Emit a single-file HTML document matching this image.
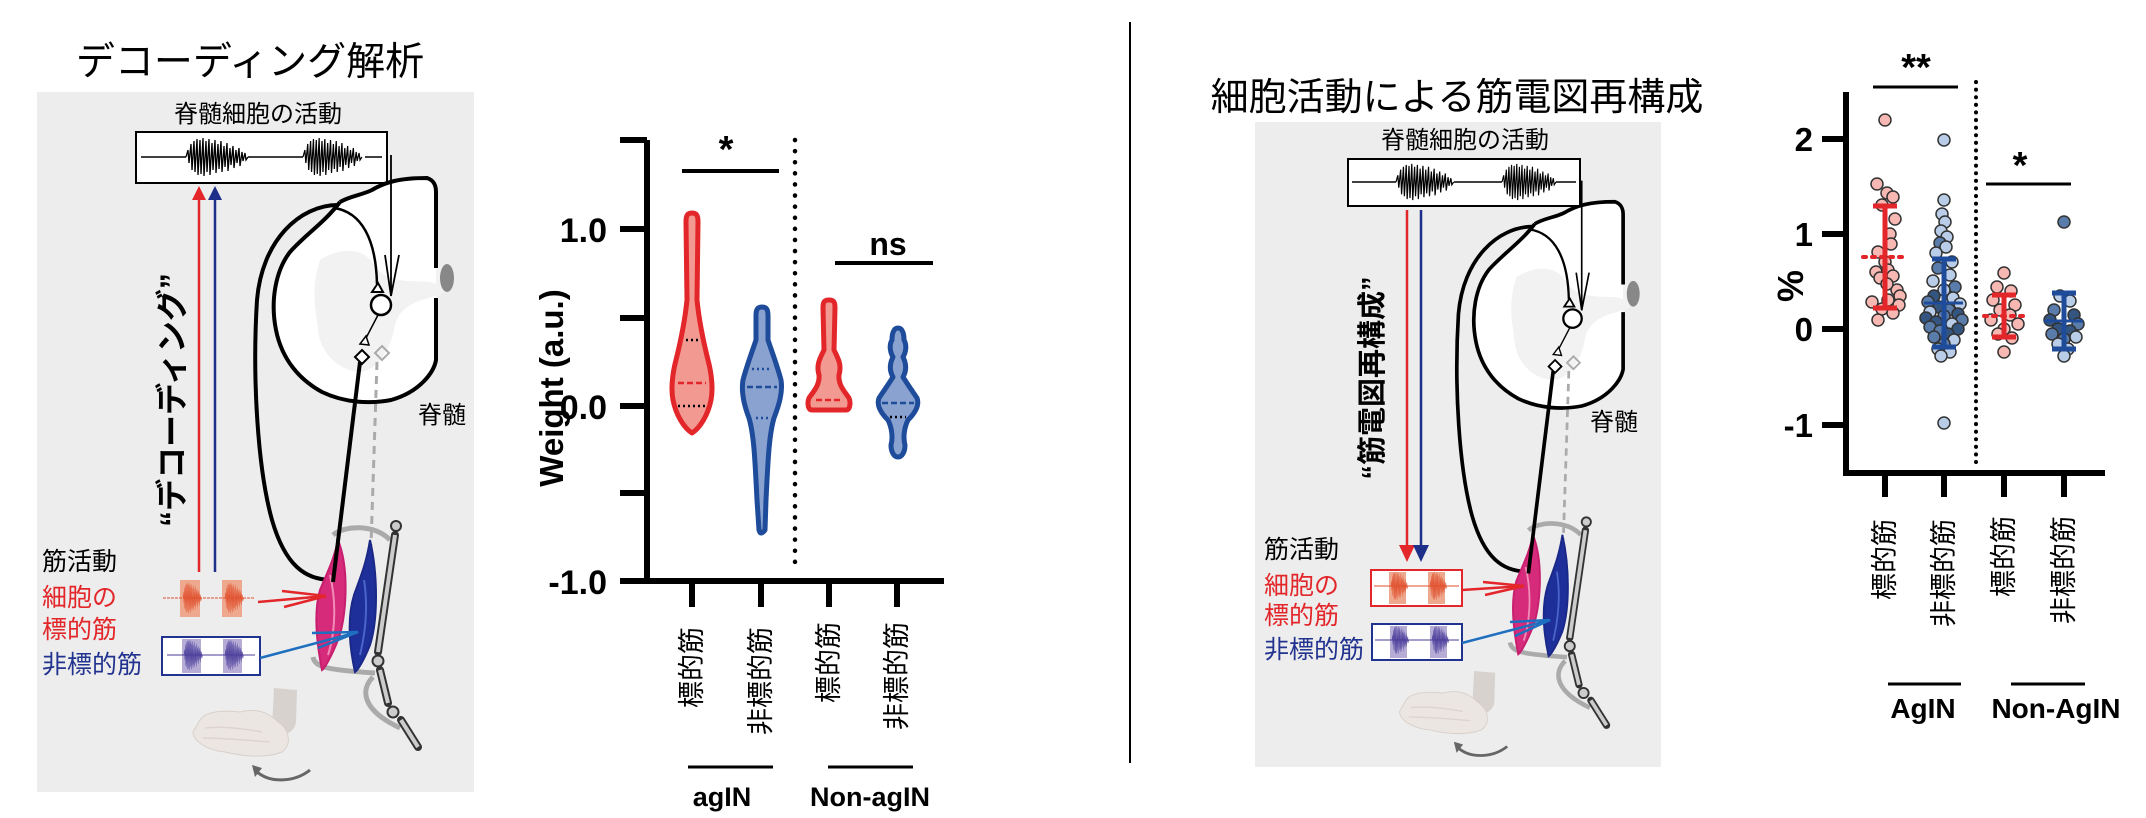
<!DOCTYPE html>
<html><head><meta charset="utf-8"><style>
html,body{margin:0;padding:0;background:#fff;}
svg{display:block;}
text{font-family:"Liberation Sans","Noto Sans CJK JP",sans-serif;}
</style></head><body>
<svg width="2146" height="818" viewBox="0 0 2146 818" xmlns="http://www.w3.org/2000/svg">
<defs>
<path id="burst" d="M0,0 L2,-7 L3,6 L5,-13 L6,13 L8,-16 L9,15 L11,-18 L12,18 L14,-17 L15,17 L17,-19 L18,19 L20,-16 L21,15 L23,-18 L24,18 L26,-14 L27,13 L29,-17 L30,16 L32,-13 L33,12 L35,-16 L36,15 L38,-11 L39,10 L41,-14 L42,14 L44,-9 L45,8 L47,-11 L48,11 L50,-7 L51,6 L53,-9 L54,9 L56,-5 L57,4 L59,-4 L60,3 L62,0" fill="none" stroke-width="1.3"/>
<g id="cord">
  <path d="M338,205 C300,205 262,240 257,300 C252,380 258,470 272,520 C285,565 305,580 332,580" fill="none" stroke="#000" stroke-width="4"/>
  <path d="M340,202 C350,196 362,195 372,190 C385,182 400,178 427,178 C433,180 436,184 436,192 L436,360 C434,372 420,392 391,400 C370,404 345,403 322,392 C300,380 282,360 276,330 C270,300 276,270 290,252 C305,235 325,222 340,202 Z" fill="#fff" stroke="none"/>
  <path d="M320,260 C335,250 360,245 372,262 C385,285 410,280 430,282 L436,284 L436,296 C420,300 400,305 395,325 C392,345 380,370 360,372 C335,370 320,350 318,330 C316,310 310,290 320,260 Z" fill="#f2f2f2"/>
  <path d="M436,268 L446,266 L446,290 L436,298 Z" fill="#f2f2f2"/>
  <path d="M340,202 C350,196 362,195 372,190 C385,182 400,178 427,178 C433,180 436,184 436,192 L436,268 M436,298 L436,360 C434,372 420,392 391,400 C370,404 345,403 322,392 C300,380 282,360 276,330 C270,300 276,270 290,252 C305,235 325,222 340,202" fill="none" stroke="#000" stroke-width="4"/>
  <ellipse cx="447" cy="278" rx="7" ry="14" fill="#888"/>
  <path d="M334,208 C362,212 376,240 377,284" fill="none" stroke="#000" stroke-width="2.5"/>
  <path d="M372,292 L378,283 L383,292 Z" fill="#fff" stroke="#000" stroke-width="2"/>
  <path d="M391,155 L391,296 M385,255 L391,296 L399,255" fill="none" stroke="#000" stroke-width="1.8"/>
  <circle cx="381" cy="305" r="10" fill="#fff" stroke="#000" stroke-width="2.5"/>
  <line x1="378" y1="315" x2="365" y2="340" stroke="#000" stroke-width="1.5"/>
  <path d="M360,344 L366,336 L369,345 Z" fill="#fff" stroke="#000" stroke-width="1.5"/>
  <path d="M362,350 L369,357 L362,364 L355,357 Z" fill="#fff" stroke="#000" stroke-width="2"/>
  <path d="M382,346 L389,353 L382,360 L375,353 Z" fill="none" stroke="#aaa" stroke-width="2"/>
  <line x1="377" y1="362" x2="371" y2="545" stroke="#aaa" stroke-width="3" stroke-dasharray="8,6"/>
  <path d="M333,535 C345,525 375,524 390,540" fill="none" stroke="#aaa" stroke-width="5"/>
  <path d="M313,657 C315,668 330,670 375,673" fill="none" stroke="#aaa" stroke-width="5"/>
  <path d="M373,677 C360,690 362,710 400,728" fill="none" stroke="#aaa" stroke-width="5"/>
  <path d="M338,540 C350,570 346,620 338,640 C332,655 325,668 322,670 C316,640 314,610 320,590 C326,575 334,560 338,540 Z" fill="#d62a7a" stroke="#c81e6e" stroke-width="2"/>
  <path d="M330,575 C336,600 336,630 328,655" fill="none" stroke="#f08cb8" stroke-width="2"/>
  <path d="M370,540 C378,575 378,620 370,645 C364,660 358,670 355,672 C348,640 348,615 354,595 C360,578 366,565 370,540 Z" fill="#1e2f9a" stroke="#1a2888" stroke-width="2"/>
  <path d="M364,580 C368,605 366,630 360,655" fill="none" stroke="#4a64c8" stroke-width="2"/>
  <line x1="360" y1="362" x2="333" y2="582" stroke="#000" stroke-width="4"/>
  <line x1="395" y1="535" x2="378" y2="652" stroke="#333" stroke-width="8" stroke-linecap="round"/>
  <line x1="395" y1="535" x2="378" y2="652" stroke="#ccc" stroke-width="4"/>
  <circle cx="396" cy="526" r="5" fill="#ccc" stroke="#333" stroke-width="2"/>
  <circle cx="378" cy="661" r="5.5" fill="#ccc" stroke="#333" stroke-width="2"/>
  <line x1="380" y1="670" x2="388" y2="703" stroke="#333" stroke-width="8" stroke-linecap="round"/>
  <line x1="380" y1="670" x2="388" y2="703" stroke="#ccc" stroke-width="4"/>
  <circle cx="393" cy="712" r="5.5" fill="#ccc" stroke="#333" stroke-width="2"/>
  <line x1="401" y1="720" x2="418" y2="747" stroke="#333" stroke-width="8" stroke-linecap="round"/>
  <line x1="401" y1="720" x2="418" y2="747" stroke="#ccc" stroke-width="4"/>
  <path d="M274,688 L297,690 L296,722 C295,730 288,735 280,735 L272,728 Z" fill="#d8d2ce"/>
  <path d="M200,720 C205,712 220,710 240,712 C255,708 268,712 278,722 C290,730 292,745 282,752 C268,758 245,757 225,752 C205,750 193,740 193,732 Z" fill="#ece6e2" stroke="#d8d0ca" stroke-width="1"/>
  <path d="M205,728 C220,726 240,728 262,732 M203,738 C222,738 245,740 270,742" fill="none" stroke="#ddd4ce" stroke-width="1.5"/>
  <path d="M310,770 C295,782 270,784 256,771" fill="none" stroke="#666" stroke-width="3"/>
  <path d="M252,765 L262,768 L255,777 Z" fill="#666"/>
</g>
</defs>

<!-- LEFT PANEL -->
<text x="250" y="75" font-size="39" text-anchor="middle">デコーディング解析</text>
<rect x="37" y="92" width="437" height="700" fill="#ededed"/>
<text x="258" y="122" font-size="24" text-anchor="middle">脊髄細胞の活動</text>
<rect x="136" y="132" width="251" height="51" fill="#fff" stroke="#000" stroke-width="2"/>
<path d="M141,157 L186,157 M248,157 L303,157 M365,157 L382,157" stroke="#000" stroke-width="1.5"/>
<use href="#burst" transform="translate(186,157)" stroke="#000"/>
<use href="#burst" transform="translate(303,157) scale(0.95,1)" stroke="#000"/>
<use href="#cord"/>
<text x="418" y="423" font-size="24">脊髄</text>
<line x1="199" y1="572" x2="199" y2="198" stroke="#e3262a" stroke-width="2.5"/>
<path d="M192,200 L199,186 L206,200 Z" fill="#e3262a"/>
<line x1="215" y1="572" x2="215" y2="198" stroke="#1e2f8a" stroke-width="2.5"/>
<path d="M208,200 L215,186 L222,200 Z" fill="#1e2f8a"/>
<text transform="translate(183,400) rotate(-90)" font-size="32" font-weight="bold" text-anchor="middle">“デコーディング”</text>
<text x="42" y="570" font-size="25">筋活動</text>
<text x="42" y="606" font-size="25" fill="#e3262a">細胞の</text>
<text x="42" y="638" font-size="25" fill="#e3262a">標的筋</text>
<text x="42" y="673" font-size="25" fill="#22338f">非標的筋</text>
<rect x="180" y="580" width="20" height="37" fill="#eea88e"/>
<rect x="222" y="580" width="20" height="37" fill="#eea88e"/>
<line x1="163" y1="598" x2="255" y2="598" stroke="#e0502e" stroke-width="1" stroke-dasharray="3,1"/>
<use href="#burst" transform="translate(183,598) scale(0.3,0.8)" stroke="#e0502e"/>
<use href="#burst" transform="translate(225,598) scale(0.3,0.8)" stroke="#e0502e"/>
<line x1="258" y1="602" x2="326" y2="596" stroke="#e3262a" stroke-width="2.5"/>
<path d="M282,591 L326,596 L284,607" fill="none" stroke="#e3262a" stroke-width="2.5"/>
<rect x="162" y="637" width="98" height="38" fill="#fff" stroke="#22338f" stroke-width="2"/>
<rect x="182" y="639" width="19" height="34" fill="#b6acd6"/>
<rect x="223" y="639" width="19" height="34" fill="#b6acd6"/>
<line x1="167" y1="655" x2="255" y2="655" stroke="#4a3d9a" stroke-width="1"/>
<use href="#burst" transform="translate(184,655) scale(0.3,0.8)" stroke="#4a3d9a"/>
<use href="#burst" transform="translate(225,655) scale(0.3,0.8)" stroke="#4a3d9a"/>
<line x1="260" y1="658" x2="358" y2="632" stroke="#1f6fbf" stroke-width="2.5"/>
<path d="M312,633 L358,632 L318,648" fill="none" stroke="#1f6fbf" stroke-width="2.5"/>

<!-- CHART 1 -->
<line x1="647" y1="140" x2="647" y2="584" stroke="#000" stroke-width="6"/>
<line x1="644" y1="581" x2="944" y2="581" stroke="#000" stroke-width="6"/>
<g stroke="#000" stroke-width="6">
<line x1="620" y1="140" x2="647" y2="140"/><line x1="620" y1="229" x2="647" y2="229"/><line x1="620" y1="318" x2="647" y2="318"/>
<line x1="620" y1="406" x2="647" y2="406"/><line x1="620" y1="493" x2="647" y2="493"/><line x1="620" y1="581" x2="647" y2="581"/>
<line x1="692" y1="581" x2="692" y2="607"/><line x1="761" y1="581" x2="761" y2="607"/><line x1="829" y1="581" x2="829" y2="607"/><line x1="897" y1="581" x2="897" y2="607"/>
</g>
<g font-size="34" font-weight="bold" text-anchor="end">
<text x="607" y="242">1.0</text><text x="607" y="419">0.0</text><text x="607" y="594">-1.0</text>
</g>
<text transform="translate(563,388) rotate(-90)" font-size="33" font-weight="bold" text-anchor="middle">Weight (a.u.)</text>
<line x1="795" y1="140" x2="795" y2="570" stroke="#000" stroke-width="4.5" stroke-dasharray="0.1,11" stroke-linecap="round"/>
<text x="726" y="162" font-size="38" font-weight="bold" text-anchor="middle">*</text>
<line x1="682" y1="171" x2="779" y2="171" stroke="#000" stroke-width="4"/>
<text x="888" y="255" font-size="32" font-weight="bold" text-anchor="middle">ns</text>
<line x1="835" y1="263" x2="933" y2="263" stroke="#000" stroke-width="4"/>
<path d="M692,213 C697,213 698,216 698,222 L697,300 C699,320 703,340 708,360 C712,375 713,390 711,400 C708,415 700,428 692,433 C684,428 676,415 673,400 C671,390 672,375 676,360 C681,340 685,320 687,300 L686,222 C686,216 687,213 692,213 Z" fill="#f29a92" stroke="#e3262a" stroke-width="5" stroke-linejoin="round"/>
<line x1="678" y1="383" x2="706" y2="383" stroke="#e3262a" stroke-width="2.5" stroke-dasharray="6,3"/>
<line x1="686" y1="340" x2="700" y2="340" stroke="#000" stroke-width="2.5" stroke-dasharray="2,3"/>
<line x1="678" y1="406" x2="706" y2="406" stroke="#000" stroke-width="2.5" stroke-dasharray="2,3"/>
<path d="M762,307 C767,307 768,310 768,316 L768,340 C772,352 777,365 781,380 C783,392 779,405 774,418 C769,435 768,460 766,500 L765,530 C762,534 760,534 759,530 L757,500 C755,460 754,435 749,418 C744,405 741,392 743,380 C747,365 752,352 756,340 L756,316 C756,310 757,307 762,307 Z" fill="#8aa2d0" stroke="#1e4c9a" stroke-width="5" stroke-linejoin="round"/>
<line x1="747" y1="387" x2="777" y2="387" stroke="#1e4c9a" stroke-width="2.5" stroke-dasharray="6,3"/>
<line x1="752" y1="369" x2="772" y2="369" stroke="#1e4c9a" stroke-width="2.5" stroke-dasharray="2,3"/>
<line x1="756" y1="418" x2="768" y2="418" stroke="#1e4c9a" stroke-width="2.5" stroke-dasharray="2,3"/>
<path d="M829,300 C834,300 835,302 835,308 L834,350 C838,358 842,365 839,375 C838,385 845,392 849,398 C851,403 850,410 846,410 L812,410 C808,410 807,403 809,398 C813,392 820,385 819,375 C816,365 820,358 824,350 L823,308 C823,302 824,300 829,300 Z" fill="#f29a92" stroke="#e3262a" stroke-width="5" stroke-linejoin="round"/>
<line x1="816" y1="400" x2="842" y2="400" stroke="#e3262a" stroke-width="2.5" stroke-dasharray="6,3"/>
<path d="M898,328 C903,328 904,335 904,340 C907,345 906,352 903,357 C906,363 907,370 903,377 C908,385 913,392 917,398 C920,406 914,414 908,420 C904,428 903,438 905,445 C905,452 902,457 898,457 C894,457 891,452 891,445 C893,438 892,428 888,420 C882,414 876,406 879,398 C883,392 888,385 893,377 C889,370 890,363 893,357 C890,352 889,345 892,340 C892,335 893,328 898,328 Z" fill="#8aa2d0" stroke="#1e4c9a" stroke-width="5" stroke-linejoin="round"/>
<line x1="882" y1="403" x2="914" y2="403" stroke="#1e4c9a" stroke-width="2.5" stroke-dasharray="6,3"/>
<line x1="890" y1="417" x2="906" y2="417" stroke="#000" stroke-width="2.5" stroke-dasharray="2,3"/>
<g font-size="27" text-anchor="end">
<text transform="translate(701,627) rotate(-90)">標的筋</text>
<text transform="translate(770,627) rotate(-90)">非標的筋</text>
<text transform="translate(838,622) rotate(-90)">標的筋</text>
<text transform="translate(906,622) rotate(-90)">非標的筋</text>
</g>
<line x1="688" y1="767" x2="773" y2="767" stroke="#000" stroke-width="3"/>
<line x1="828" y1="767" x2="913" y2="767" stroke="#000" stroke-width="3"/>
<text x="722" y="806" font-size="27" font-weight="bold" text-anchor="middle">agIN</text>
<text x="870" y="806" font-size="27" font-weight="bold" text-anchor="middle">Non-agIN</text>

<line x1="1130" y1="22" x2="1130" y2="763" stroke="#000" stroke-width="2"/>

<!-- RIGHT PANEL -->
<text x="1457" y="110" font-size="38" text-anchor="middle">細胞活動による筋電図再構成</text>
<rect x="1255" y="122" width="406" height="645" fill="#ededed"/>
<text x="1465" y="148" font-size="24" text-anchor="middle">脊髄細胞の活動</text>
<g transform="translate(1222,38) scale(0.92)"><use href="#cord"/></g>
<rect x="1348" y="159" width="232" height="47" fill="#fff" stroke="#000" stroke-width="2"/>
<path d="M1352,182 L1396,182 M1454,182 L1502,182 M1556,182 L1576,182" stroke="#000" stroke-width="1.5"/>
<use href="#burst" transform="translate(1396,182) scale(0.93,0.95)" stroke="#000"/>
<use href="#burst" transform="translate(1502,182) scale(0.87,0.95)" stroke="#000"/>
<text x="1590" y="430" font-size="24">脊髄</text>
<line x1="1407" y1="210" x2="1407" y2="548" stroke="#e3262a" stroke-width="2.5"/>
<path d="M1399,545 L1407,562 L1415,545 Z" fill="#e3262a"/>
<line x1="1421" y1="210" x2="1421" y2="548" stroke="#1e2f8a" stroke-width="2.5"/>
<path d="M1413,545 L1421,562 L1429,545 Z" fill="#1e2f8a"/>
<text transform="translate(1382,378) rotate(-90)" font-size="29" font-weight="bold" text-anchor="middle">“筋電図再構成”</text>
<text x="1264" y="558" font-size="25">筋活動</text>
<text x="1264" y="594" font-size="25" fill="#e3262a">細胞の</text>
<text x="1264" y="624" font-size="25" fill="#e3262a">標的筋</text>
<text x="1264" y="658" font-size="25" fill="#22338f">非標的筋</text>
<rect x="1371" y="570" width="91" height="36" fill="#fff" stroke="#e3262a" stroke-width="2"/>
<rect x="1389" y="572" width="17" height="32" fill="#eea88e"/>
<rect x="1428" y="572" width="17" height="32" fill="#eea88e"/>
<line x1="1374" y1="586" x2="1459" y2="586" stroke="#e0502e" stroke-width="1"/>
<use href="#burst" transform="translate(1391,586) scale(0.27,0.75)" stroke="#e0502e"/>
<use href="#burst" transform="translate(1430,586) scale(0.27,0.75)" stroke="#e0502e"/>
<line x1="1462" y1="590" x2="1524" y2="586" stroke="#e3262a" stroke-width="2.5"/>
<path d="M1483,582 L1524,586 L1485,595" fill="none" stroke="#e3262a" stroke-width="2.5"/>
<rect x="1372" y="624" width="90" height="36" fill="#fff" stroke="#22338f" stroke-width="2"/>
<rect x="1390" y="626" width="17" height="32" fill="#b6acd6"/>
<rect x="1430" y="626" width="17" height="32" fill="#b6acd6"/>
<line x1="1375" y1="640" x2="1459" y2="640" stroke="#4a3d9a" stroke-width="1"/>
<use href="#burst" transform="translate(1392,640) scale(0.27,0.75)" stroke="#4a3d9a"/>
<use href="#burst" transform="translate(1432,640) scale(0.27,0.75)" stroke="#4a3d9a"/>
<line x1="1462" y1="643" x2="1550" y2="620" stroke="#1f6fbf" stroke-width="2.5"/>
<path d="M1510,622 L1550,620 L1515,636" fill="none" stroke="#1f6fbf" stroke-width="2.5"/>

<!-- CHART 2 -->
<line x1="1846" y1="92" x2="1846" y2="476" stroke="#000" stroke-width="6"/>
<line x1="1843" y1="473" x2="2105" y2="473" stroke="#000" stroke-width="6"/>
<g stroke="#000" stroke-width="6">
<line x1="1822" y1="139" x2="1846" y2="139"/><line x1="1822" y1="234" x2="1846" y2="234"/><line x1="1822" y1="329" x2="1846" y2="329"/><line x1="1822" y1="425" x2="1846" y2="425"/>
<line x1="1885" y1="473" x2="1885" y2="497"/><line x1="1944" y1="473" x2="1944" y2="497"/><line x1="2004" y1="473" x2="2004" y2="497"/><line x1="2064" y1="473" x2="2064" y2="497"/>
</g>
<g font-size="33" font-weight="bold" text-anchor="end">
<text x="1813" y="151">2</text><text x="1813" y="246">1</text><text x="1813" y="341">0</text><text x="1813" y="437">-1</text>
</g>
<text transform="translate(1803,286) rotate(-90)" font-size="36" font-weight="bold" text-anchor="middle">%</text>
<line x1="1976" y1="82" x2="1976" y2="462" stroke="#000" stroke-width="4" stroke-dasharray="0.1,7.5" stroke-linecap="round"/>
<text x="1916" y="80" font-size="38" font-weight="bold" text-anchor="middle">**</text>
<line x1="1873" y1="87" x2="1958" y2="87" stroke="#000" stroke-width="3"/>
<text x="2020" y="178" font-size="38" font-weight="bold" text-anchor="middle">*</text>
<line x1="1986" y1="184" x2="2071" y2="184" stroke="#000" stroke-width="3"/>
<g stroke="#333" stroke-width="1.5" fill="#f7b7b2">
<circle cx="1885" cy="120" r="6"/><circle cx="1877" cy="184" r="6"/><circle cx="1887" cy="193" r="6"/><circle cx="1893" cy="197" r="6"/><circle cx="1882" cy="205" r="6"/>
<circle cx="1895" cy="219" r="6"/><circle cx="1890" cy="234" r="6"/><circle cx="1891" cy="244" r="6"/><circle cx="1878" cy="252" r="6"/><circle cx="1885" cy="262" r="6"/>
<circle cx="1876" cy="272" r="6"/><circle cx="1888" cy="270" r="6"/><circle cx="1893" cy="276" r="6"/><circle cx="1880" cy="278" r="6"/><circle cx="1897" cy="290" r="6"/>
<circle cx="1887" cy="284" r="6"/><circle cx="1900" cy="296" r="6"/><circle cx="1872" cy="302" r="6"/><circle cx="1899" cy="305" r="6"/><circle cx="1882" cy="309" r="6"/>
<circle cx="1893" cy="313" r="6"/><circle cx="1878" cy="320" r="6"/><circle cx="1888" cy="300" r="6"/>
</g>
<g stroke="#333" stroke-width="1.5">
<circle cx="1944" cy="140" r="6" fill="#b9cde8"/><circle cx="1944" cy="200" r="6" fill="#b9cde8"/><circle cx="1942" cy="214" r="6" fill="#b9cde8"/><circle cx="1945" cy="222" r="6" fill="#b9cde8"/>
<circle cx="1941" cy="231" r="6" fill="#b9cde8"/><circle cx="1947" cy="237" r="6" fill="#b9cde8"/><circle cx="1940" cy="243" r="6" fill="#5a7cab"/><circle cx="1946" cy="247" r="6" fill="#b9cde8"/>
<circle cx="1936" cy="253" r="6" fill="#b9cde8"/><circle cx="1952" cy="262" r="6" fill="#b9cde8"/><circle cx="1938" cy="268" r="6" fill="#5a7cab"/><circle cx="1950" cy="275" r="6" fill="#b9cde8"/>
<circle cx="1933" cy="281" r="6" fill="#b9cde8"/><circle cx="1955" cy="287" r="6" fill="#5a7cab"/><circle cx="1944" cy="290" r="6" fill="#b9cde8"/><circle cx="1934" cy="296" r="6" fill="#34557f"/>
<circle cx="1953" cy="298" r="6" fill="#b9cde8"/><circle cx="1928" cy="302" r="6" fill="#5a7cab"/><circle cx="1960" cy="304" r="6" fill="#b9cde8"/><circle cx="1939" cy="307" r="6" fill="#34557f"/>
<circle cx="1949" cy="310" r="6" fill="#5a7cab"/><circle cx="1930" cy="312" r="6" fill="#b9cde8"/><circle cx="1958" cy="314" r="6" fill="#34557f"/><circle cx="1944" cy="316" r="6" fill="#5a7cab"/>
<circle cx="1926" cy="318" r="6" fill="#34557f"/><circle cx="1962" cy="320" r="6" fill="#5a7cab"/><circle cx="1936" cy="322" r="6" fill="#34557f"/><circle cx="1952" cy="324" r="6" fill="#b9cde8"/>
<circle cx="1930" cy="327" r="6" fill="#5a7cab"/><circle cx="1958" cy="329" r="6" fill="#34557f"/><circle cx="1940" cy="331" r="6" fill="#5a7cab"/><circle cx="1948" cy="334" r="6" fill="#34557f"/>
<circle cx="1934" cy="337" r="6" fill="#5a7cab"/><circle cx="1954" cy="340" r="6" fill="#b9cde8"/><circle cx="1944" cy="344" r="6" fill="#5a7cab"/><circle cx="1938" cy="349" r="6" fill="#b9cde8"/>
<circle cx="1950" cy="352" r="6" fill="#b9cde8"/><circle cx="1941" cy="356" r="6" fill="#b9cde8"/><circle cx="1944" cy="423" r="6" fill="#b9cde8"/>
</g>
<g stroke="#333" stroke-width="1.5" fill="#f7b7b2">
<circle cx="2004" cy="273" r="6"/><circle cx="1997" cy="287" r="6"/><circle cx="2011" cy="291" r="6"/><circle cx="1993" cy="300" r="6"/><circle cx="2015" cy="305" r="6"/>
<circle cx="2000" cy="310" r="6"/><circle cx="2010" cy="315" r="6"/><circle cx="1991" cy="320" r="6"/><circle cx="2018" cy="324" r="6"/><circle cx="2004" cy="329" r="6"/>
<circle cx="1998" cy="334" r="6"/><circle cx="2012" cy="338" r="6"/><circle cx="2004" cy="352" r="6"/>
</g>
<g stroke="#333" stroke-width="1.5">
<circle cx="2064" cy="222" r="6" fill="#5a7cab"/><circle cx="2060" cy="296" r="6" fill="#b9cde8"/><circle cx="2070" cy="301" r="6" fill="#b9cde8"/><circle cx="2054" cy="310" r="6" fill="#5a7cab"/>
<circle cx="2074" cy="315" r="6" fill="#34557f"/><circle cx="2050" cy="320" r="6" fill="#34557f"/><circle cx="2078" cy="324" r="6" fill="#5a7cab"/><circle cx="2058" cy="329" r="6" fill="#34557f"/>
<circle cx="2070" cy="331" r="6" fill="#34557f"/><circle cx="2052" cy="334" r="6" fill="#5a7cab"/><circle cx="2076" cy="337" r="6" fill="#b9cde8"/><circle cx="2064" cy="339" r="6" fill="#5a7cab"/>
<circle cx="2058" cy="344" r="6" fill="#b9cde8"/><circle cx="2068" cy="349" r="6" fill="#b9cde8"/><circle cx="2064" cy="356" r="6" fill="#b9cde8"/>
</g>
<g stroke="#e3262a" stroke-width="5">
<line x1="1885" y1="206" x2="1885" y2="308"/><line x1="1873" y1="206" x2="1897" y2="206"/><line x1="1873" y1="308" x2="1897" y2="308"/>
<line x1="2004" y1="295" x2="2004" y2="337"/><line x1="1992" y1="295" x2="2016" y2="295"/><line x1="1992" y1="337" x2="2016" y2="337"/>
</g>
<line x1="1863" y1="257" x2="1905" y2="257" stroke="#e3262a" stroke-width="4" stroke-dasharray="3,6" stroke-linecap="round"/>
<line x1="1984" y1="316" x2="2024" y2="316" stroke="#e3262a" stroke-width="4" stroke-dasharray="3,6" stroke-linecap="round"/>
<g stroke="#1e4c9a" stroke-width="5">
<line x1="1944" y1="259" x2="1944" y2="347"/><line x1="1932" y1="259" x2="1956" y2="259"/><line x1="1932" y1="347" x2="1956" y2="347"/>
<line x1="2064" y1="293" x2="2064" y2="349"/><line x1="2052" y1="293" x2="2076" y2="293"/><line x1="2052" y1="349" x2="2076" y2="349"/>
</g>
<line x1="1924" y1="303" x2="1963" y2="303" stroke="#1e4c9a" stroke-width="3"/>
<line x1="2044" y1="321" x2="2083" y2="321" stroke="#1e4c9a" stroke-width="3"/>
<g font-size="27" text-anchor="end">
<text transform="translate(1894,519) rotate(-90)">標的筋</text>
<text transform="translate(1953,519) rotate(-90)">非標的筋</text>
<text transform="translate(2013,516) rotate(-90)">標的筋</text>
<text transform="translate(2073,516) rotate(-90)">非標的筋</text>
</g>
<line x1="1888" y1="684" x2="1961" y2="684" stroke="#000" stroke-width="3"/>
<line x1="2011" y1="684" x2="2085" y2="684" stroke="#000" stroke-width="3"/>
<text x="1923" y="718" font-size="28" font-weight="bold" text-anchor="middle">AgIN</text>
<text x="2056" y="718" font-size="28" font-weight="bold" text-anchor="middle">Non-AgIN</text>
</svg>
</body></html>
